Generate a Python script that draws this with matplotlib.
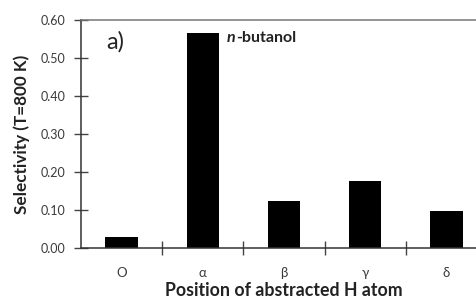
import matplotlib
matplotlib.use("Agg")
import matplotlib.pyplot as plt

categories = ["O", "α", "β", "γ", "δ"]
values = [0.03, 0.566, 0.124, 0.177, 0.098]
yticks = [0.0, 0.1, 0.2, 0.3, 0.4, 0.5, 0.6]
ytick_labels = ["0.00", "0.10", "0.20", "0.30", "0.40", "0.50", "0.60"]

plt.rcParams['font.family'] = ['Lato', 'DejaVu Sans']

W, H = 476, 300
fig = plt.figure(figsize=(W/100, H/100), dpi=100)
left, right, top, bottom = 81, 487, 20, 248
ax = fig.add_axes([left/W, 1-bottom/H, (right-left)/W, (bottom-top)/H])

x = list(range(len(categories)))
ax.bar(x, values, width=0.4, color='black')
ax.set_xlim(-0.5, len(categories)-0.5)
ax.set_ylim(0, 0.6)

ax.set_yticks(yticks)
ax.set_yticklabels(ytick_labels, fontsize=9, color='#3a3a3a')
ax.set_xticks(x)
ax.set_xticklabels(categories, fontsize=9.5, color='#3a3a3a')
ax.set_xticks([i + 0.5 for i in x[:-1]], minor=True)
ax.tick_params(axis='x', which='major', length=0, pad=14)
ax.tick_params(axis='x', which='minor', length=10, direction='inout', width=1.0, color='#444444')
ax.tick_params(axis='y', length=10, direction='inout', width=1.0, color='#444444', pad=6)

for s in ['left', 'bottom']:
    ax.spines[s].set_color('#333333')
    ax.spines[s].set_linewidth(1.1)
ax.spines['top'].set_color('#777777')
ax.spines['top'].set_linewidth(1.1)
ax.spines['right'].set_visible(False)

ax.set_ylabel("Selectivity (T=800 K)", fontsize=12.3, fontweight='bold', color='#222222')
ax.yaxis.set_label_coords(-0.125, 0.5)
ax.set_xlabel("Position of abstracted H atom", fontsize=12.8, fontweight='bold', color='#222222', labelpad=2)

ax.text(-0.08, 0.542, "a)", fontsize=17, color='#222222', ha='center', va='center')
t1 = ax.text(1.298, 0.553, "n", fontsize=11.5, fontweight='bold', fontstyle='italic',
             color='#222222', ha='left', va='center')
ax.annotate("-butanol", xy=(1, 0.5), xycoords=t1, xytext=(0.5, 0), textcoords='offset points',
            fontsize=11.5, fontweight='bold', color='#222222', ha='left', va='center')

fig.savefig("out.png", dpi=100)
